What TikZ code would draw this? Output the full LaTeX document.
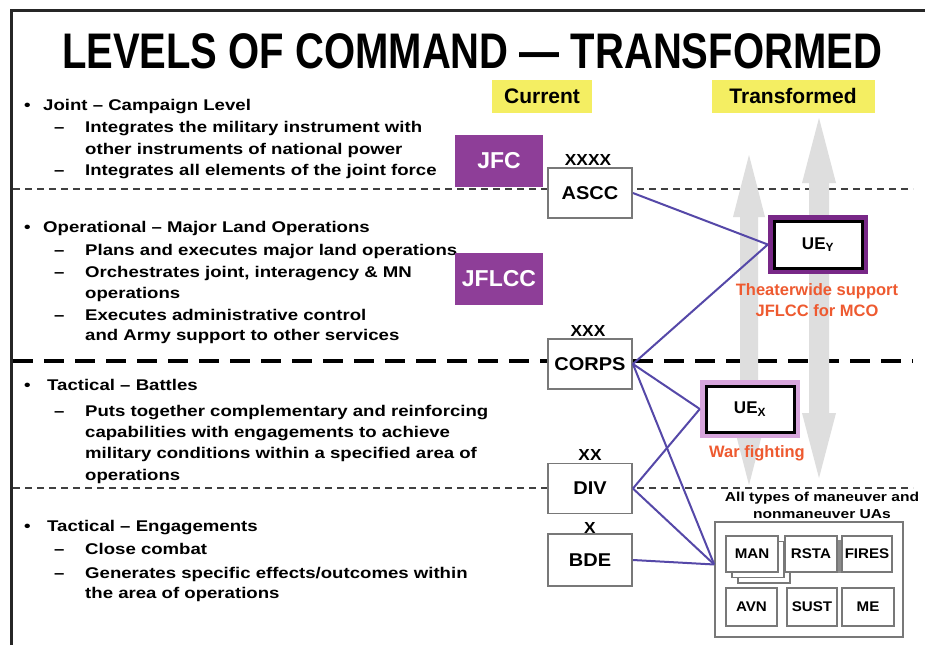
\documentclass[tikz,border=0pt]{standalone}
\usepackage{fontspec}
\setmainfont{Liberation Sans}
\newfontfamily\bodyf[FakeStretch=1.2]{Liberation Sans}
\newfontfamily\titlef[FakeStretch=0.8]{Liberation Sans}
\newfontfamily\labf[FakeStretch=1.08]{Liberation Sans}
\definecolor{jpurple}{RGB}{142,62,152}
\definecolor{ueyc}{RGB}{120,40,135}
\definecolor{uexc}{RGB}{215,165,220}
\definecolor{connc}{RGB}{85,72,168}
\definecolor{ylw}{RGB}{244,238,98}
\definecolor{redt}{RGB}{238,90,48}
\definecolor{boxg}{RGB}{120,120,120}
\definecolor{arrg}{RGB}{222,222,222}
\tikzset{
 body/.style={font=\bodyf\bfseries\fontsize{15.5}{18}\selectfont, anchor=base west, inner sep=0pt},
 cbox/.style={draw=boxg, line width=1.8pt, fill=white, minimum width=84pt, minimum height=50pt, inner sep=0pt, font=\labf\bfseries\fontsize{18.5}{20}\selectfont},
 rank/.style={font=\labf\bfseries\fontsize{16}{18}\selectfont, inner sep=0pt},
 jbox/.style={fill=jpurple, text=white, minimum width=88pt, minimum height=52pt, inner sep=0pt, font=\bfseries\fontsize{23}{25}\selectfont},
 hdr/.style={fill=ylw, inner sep=0pt, minimum height=33pt, font=\bfseries\fontsize{21}{23}\selectfont},
 link/.style={draw=connc, line width=2pt},
 finedash/.style={draw=black!75, line width=2.2pt, dash pattern=on 7pt off 5pt},
 thickdash/.style={draw=black, line width=4.2pt, dash pattern=on 20pt off 11pt},
 uabox/.style={draw=boxg, line width=1.5pt, fill=white, inner sep=0pt, font=\labf\bfseries\fontsize{14}{16}\selectfont},
 redtxt/.style={text=redt, font=\bfseries\fontsize{16.5}{18}\selectfont, inner sep=0pt},
 uatxt/.style={font=\bodyf\bfseries\fontsize{13}{15}\selectfont, inner sep=0pt},
}
\begin{document}
\begin{tikzpicture}[x=1pt,y=-1pt]
\useasboundingbox (0,0) rectangle (925,645);
\fill[white] (0,0) rectangle (925,645);
% frame
\draw[line width=3pt, black!85] (11,645) -- (11,10) -- (925,10);
% title
\node[font=\titlef\bfseries\fontsize{50}{52}\selectfont, anchor=base, inner sep=0pt] (title) at (472,68) {LEVELS OF COMMAND — TRANSFORMED};
% dashed separators
\draw[finedash] (13,189) -- (913,189);
\draw[thickdash] (13,361) -- (913,361);
\draw[finedash] (13,488) -- (913,488);
% gray double arrows
\fill[arrg] (749,155) -- (765,217) -- (758,217) -- (758,423) -- (765,423) -- (749,485) -- (733,423) -- (740,423) -- (740,217) -- (733,217) -- cycle;
\fill[arrg] (819,118) -- (836,183) -- (829,183) -- (829,413) -- (836,413) -- (819,478) -- (802,413) -- (809,413) -- (809,183) -- (802,183) -- cycle;
% headers
\node[hdr, minimum width=100pt] (cur) at (542,96) {Current};
\node[hdr, minimum width=163pt] (trans) at (793,96) {Transformed};
% left text
\node[body] (b1) at (24,110.5) {•};
\node[body] (h1) at (43,110.5) {Joint – Campaign Level};
\node[body] (d11) at (54,132.5) {–};
\node[body] (t11) at (85,132.5) {Integrates the military instrument with};
\node[body] (t12) at (85,154) {other instruments of national power};
\node[body] (d12) at (54,175.5) {–};
\node[body] (t13) at (85,175.5) {Integrates all elements of the joint force};
\node[body] (b2) at (24,232) {•};
\node[body] (h2) at (43,232) {Operational – Major Land Operations};
\node[body] (d21) at (54,255) {–};
\node[body] (t21) at (85,255) {Plans and executes major land operations};
\node[body] (d22) at (54,277.5) {–};
\node[body] (t22) at (85,277.5) {Orchestrates joint, interagency \& MN};
\node[body] (t23) at (85,298.5) {operations};
\node[body] (d23) at (54,320) {–};
\node[body] (t24) at (85,320) {Executes administrative control};
\node[body] (t25) at (85,340.5) {and Army support to other services};
\node[body] (b3) at (24,390.5) {•};
\node[body] (h3) at (47,390.5) {Tactical – Battles};
\node[body] (d31) at (54,416) {–};
\node[body] (t31) at (85,416) {Puts together complementary and reinforcing};
\node[body] (t32) at (85,437.5) {capabilities with engagements to achieve};
\node[body] (t33) at (85,458.5) {military conditions within a specified area of};
\node[body] (t34) at (85,480) {operations};
\node[body] (b4) at (24,531.5) {•};
\node[body] (h4) at (47,531.5) {Tactical – Engagements};
\node[body] (d41) at (54,554) {–};
\node[body] (t41) at (85,554) {Close combat};
\node[body] (d42) at (54,578) {–};
\node[body] (t42) at (85,578) {Generates specific effects/outcomes within};
\node[body] (t43) at (85,598.5) {the area of operations};
% purple joint boxes
\node[jbox] (jfc) at (499,161) {JFC};
\node[jbox] (jflcc) at (499,279) {JFLCC};
% current boxes
\node[cbox] (ascc) at (590,193) {ASCC};
\node[cbox] (corps) at (590,364) {CORPS};
\node[cbox] (div) at (590,488.5) {DIV};
\node[cbox, minimum height=52pt] (bde) at (590,560) {BDE};
\node[rank] (r4) at (588,160) {XXXX};
\node[rank] (r3) at (588,331) {XXX};
\node[rank] (r2) at (590,455) {XX};
\node[rank] (r1) at (590,528) {X};
% transformed boxes
\node[fill=ueyc, minimum width=100pt, minimum height=59pt, inner sep=0pt] (ueyo) at (818,244.5) {};
\node[fill=white, draw=black, line width=3pt, minimum width=88pt, minimum height=47pt, inner sep=0pt, font=\bfseries\fontsize{17}{19}\selectfont] (uey) at (818,244.5) {UE\textsubscript{Y}};
\node[redtxt] (rt1) at (817,291) {Theaterwide support};
\node[redtxt] (rt2) at (817,311) {JFLCC for MCO};
\node[fill=uexc, minimum width=100pt, minimum height=58pt, inner sep=0pt] (uexo) at (750,409) {};
\node[fill=white, draw=black, line width=3pt, minimum width=88pt, minimum height=46pt, inner sep=0pt, font=\bfseries\fontsize{17}{19}\selectfont] (uex) at (750,409) {UE\textsubscript{X}};
\node[redtxt] (rt3) at (757,453) {War fighting};
% UA container
\node[uatxt] (ual1) at (822,498.5) {All types of maneuver and};
\node[uatxt] (ual2) at (822,514.5) {nonmaneuver UAs};
\node[draw=boxg, line width=1.6pt, fill=white, minimum width=188pt, minimum height=115pt, inner sep=0pt] (ua) at (809,579.5) {};
\node[uabox, minimum width=52pt, minimum height=36pt] (mans2) at (764,565) {};
\node[uabox, minimum width=52pt, minimum height=36pt] (mans1) at (758,559.5) {};
\fill[black!45] (837,540) rectangle (841,573);
\node[uabox, minimum width=52pt, minimum height=36pt] (man) at (752,554) {MAN};
\node[uabox, minimum width=52pt, minimum height=36pt] (rsta) at (811,554) {RSTA};
\node[uabox, minimum width=50pt, minimum height=36pt] (fires) at (867,554) {FIRES};
\node[uabox, minimum width=51pt, minimum height=38pt] (avn) at (751.5,607) {AVN};
\node[uabox, minimum width=50pt, minimum height=38pt] (sust) at (812,607) {SUST};
\node[uabox, minimum width=52pt, minimum height=38pt] (me) at (868,607) {ME};
% connectors
\draw[link] (ascc.east) -- (ueyo.west);
\draw[link] (corps.east) -- (ueyo.west);
\draw[link] (corps.east) -- (uexo.west);
\draw[link] (corps.east) -- (ua.171);
\draw[link] (div.east) -- (uexo.west);
\draw[link] (div.east) -- (ua.171);
\draw[link] (bde.east) -- (ua.171);
\end{tikzpicture}
\end{document}
